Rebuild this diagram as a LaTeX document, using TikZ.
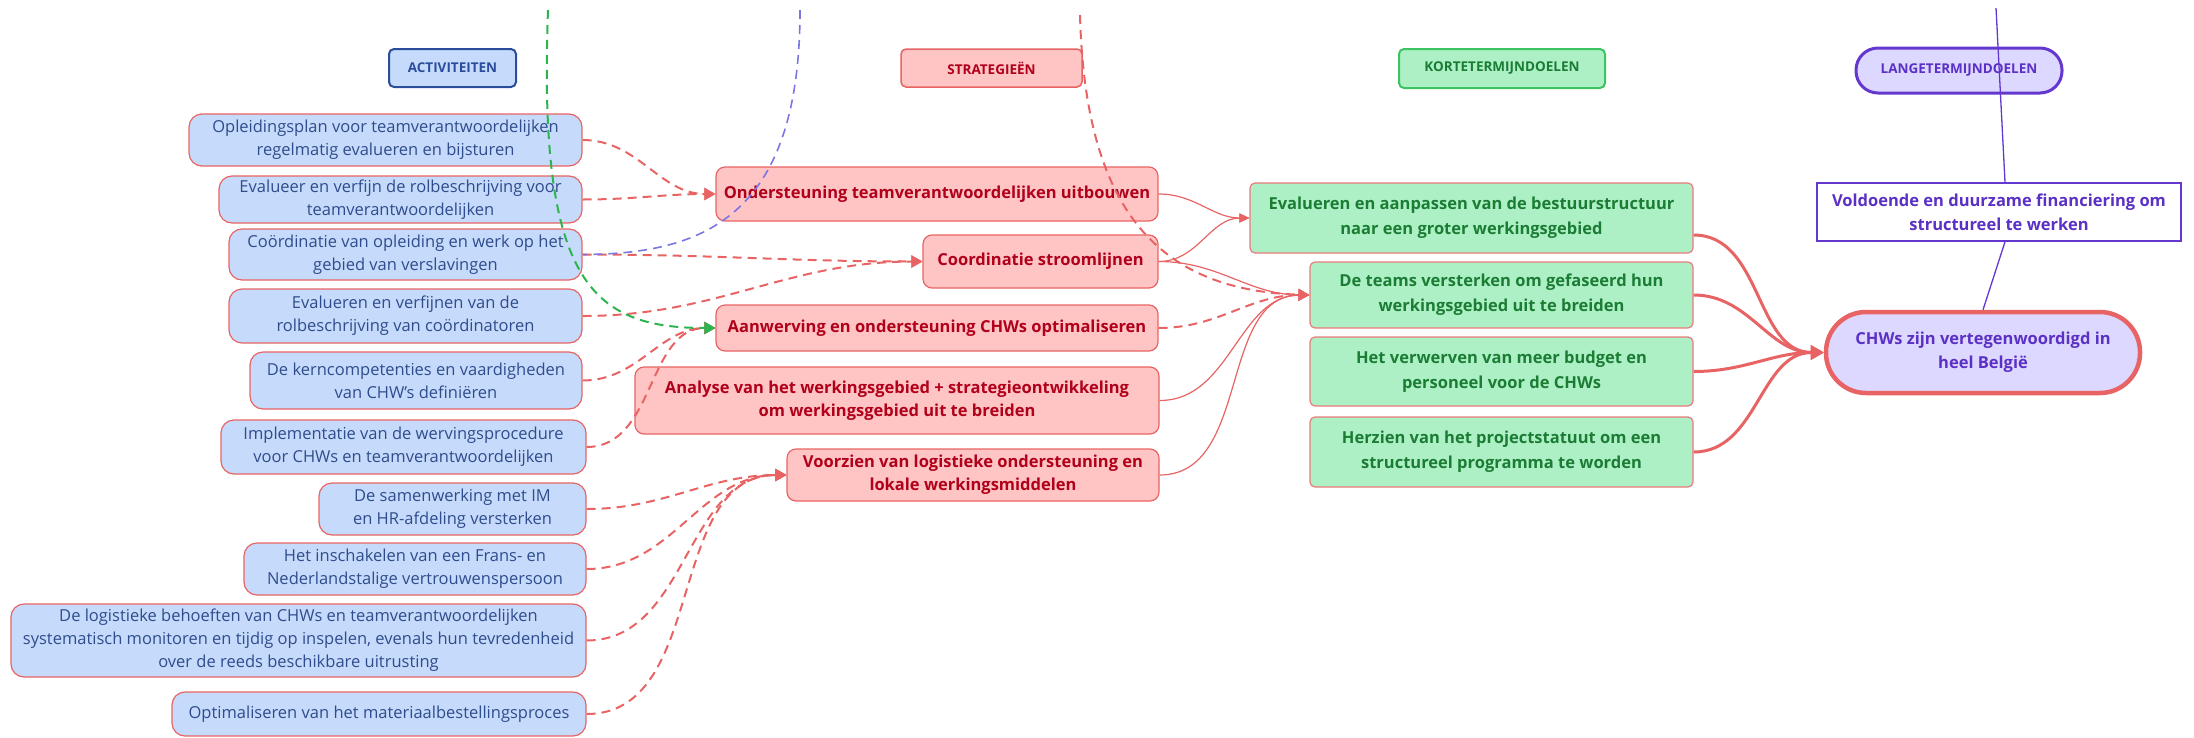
\documentclass[tikz,border=0pt]{standalone}
\usepackage{fontspec}
\setmainfont{Open Sans}
\usetikzlibrary{arrows.meta}

\definecolor{actfill}{HTML}{C6DBFB}
\definecolor{acttext}{HTML}{2F4C8C}
\definecolor{actline}{HTML}{2B4C9B}
\definecolor{strfill}{HTML}{FFC4C4}
\definecolor{strtext}{HTML}{B0001A}
\definecolor{redline}{HTML}{E86464}
\definecolor{kortfill}{HTML}{ADF0C6}
\definecolor{korttext}{HTML}{1B7C34}
\definecolor{kortline}{HTML}{3CC462}
\definecolor{langfill}{HTML}{DDD8FF}
\definecolor{langtext}{HTML}{5B30C4}
\definecolor{langline}{HTML}{6438CF}
\definecolor{greendash}{HTML}{2DB44E}
\definecolor{bluedash}{HTML}{7C76E2}

\begin{document}
\begin{tikzpicture}[x=1pt,y=-1pt, every node/.style={font=\fontsize{16.5}{23}\selectfont},
  head/.style={draw,rounded corners=5pt,align=center,font=\fontsize{13.5}{16}\selectfont\bfseries},
  act/.style={draw=redline,line width=1.2pt,fill=actfill,text=acttext,rounded corners=13pt,align=center,inner sep=2pt},
  strat/.style={draw=redline,line width=1.2pt,fill=strfill,text=strtext,rounded corners=9pt,align=center,inner sep=2pt,font=\fontsize{16.5}{23}\selectfont\bfseries},
  kort/.style={draw=redline!85,line width=1.2pt,fill=kortfill,text=korttext,rounded corners=5pt,align=center,inner sep=2pt,font=\fontsize{16.5}{25}\selectfont\bfseries},
  link/.style={redline,line width=2pt,dash pattern=on 9pt off 6pt,-{Triangle[length=11pt,width=12pt]}},
  feed/.style={redline,line width=1.2pt,-{Triangle[length=10pt,width=9pt]}},
  goal/.style={redline,line width=3pt,-{Triangle[length=13pt,width=14pt]}}]
\useasboundingbox (0,0) rectangle (2194,737);
\node[head,draw=actline,line width=2pt,fill=actfill,text=actline,minimum width=127pt,minimum height=38pt] (hact) at (452.5,68) {ACTIVITEITEN};
\node[head,draw=redline,line width=1.5pt,fill=strfill,text=strtext,minimum width=181pt,minimum height=38pt] (hstrat) at (991.5,68) {STRATEGIEËN};
\node[head,draw=kortline,line width=2pt,fill=kortfill,text=korttext,minimum width=206pt,minimum height=39pt] (hkort) at (1502,68.5) {KORTETERMIJNDOELEN};
\node[head,draw=langline,line width=3pt,fill=langfill,text=langtext,rounded corners=22pt,minimum width=206pt,minimum height=45pt] (hlang) at (1959,70.5) {LANGETERMIJNDOELEN};

\node[act,minimum width=393pt,minimum height=52pt] (act1) at (385.5,140) {Opleidingsplan voor teamverantwoordelijken\\regelmatig evalueren en bijsturen};
\node[act,minimum width=363pt,minimum height=47pt] (act2) at (400.5,199.5) {Evalueer en verfijn de rolbeschrijving voor\\teamverantwoordelijken};
\node[act,minimum width=353pt,minimum height=51pt] (act3) at (405.5,254.5) {Coördinatie van opleiding en werk op het\\gebied van verslavingen};
\node[act,minimum width=353pt,minimum height=54pt] (act4) at (405.5,316) {Evalueren en verfijnen van de\\rolbeschrijving van coördinatoren};
\node[act,minimum width=332pt,minimum height=57pt] (act5) at (416,380.5) {De kerncompetenties en vaardigheden\\van CHW's definiëren};
\node[act,minimum width=365pt,minimum height=54pt] (act6) at (403.5,447) {Implementatie van de wervingsprocedure\\voor CHWs en teamverantwoordelijken};
\node[act,minimum width=267pt,minimum height=52pt] (act7) at (452.5,509) {De samenwerking met IM\\en HR-afdeling versterken};
\node[act,minimum width=342pt,minimum height=52pt] (act8) at (415,569) {Het inschakelen van een Frans- en\\Nederlandstalige vertrouwenspersoon};
\node[act,minimum width=575pt,minimum height=73pt] (act9) at (298.5,640.5) {De logistieke behoeften van CHWs en teamverantwoordelijken\\systematisch monitoren en tijdig op inspelen, evenals hun tevredenheid\\over de reeds beschikbare uitrusting};
\node[act,minimum width=414pt,minimum height=44pt] (act10) at (379,714) {Optimaliseren van het materiaalbestellingsproces};

\node[strat,minimum width=442pt,minimum height=54pt] (str1) at (937,194) {Ondersteuning teamverantwoordelijken uitbouwen};
\node[strat,minimum width=235pt,minimum height=53pt] (str2) at (1040.5,261.5) {Coordinatie stroomlijnen};
\node[strat,minimum width=442pt,minimum height=46pt] (str3) at (937,328) {Aanwerving en ondersteuning CHWs optimaliseren};
\node[strat,minimum width=524pt,minimum height=67pt] (str4) at (897,400.5) {Analyse van het werkingsgebied + strategieontwikkeling\\om werkingsgebied uit te breiden};
\node[strat,minimum width=372pt,minimum height=52pt] (str5) at (973,475) {Voorzien van logistieke ondersteuning en\\lokale werkingsmiddelen};

\node[kort,minimum width=443pt,minimum height=70pt] (kort1) at (1471.5,218) {Evalueren en aanpassen van de bestuurstructuur\\naar een groter werkingsgebied};
\node[kort,minimum width=383pt,minimum height=66pt] (kort2) at (1501.5,295) {De teams versterken om gefaseerd hun\\werkingsgebied uit te breiden};
\node[kort,minimum width=383pt,minimum height=69pt] (kort3) at (1501.5,371.5) {Het verwerven van meer budget en\\personeel voor de CHWs};
\node[kort,minimum width=383pt,minimum height=70pt] (kort4) at (1501.5,452) {Herzien van het projectstatuut om een\\structureel programma te worden};

\node[draw=langline,line width=1.5pt,fill=white,text=langtext,align=center,inner sep=2pt,font=\fontsize{16.5}{24}\selectfont\bfseries,minimum width=364pt,minimum height=58pt] (fin) at (1999,212) {Voldoende en duurzame financiering om\\structureel te werken};
\node[draw=redline,line width=4.5pt,fill=langfill,text=langtext,rounded corners=40pt,align=center,inner sep=2pt,font=\fontsize{16.5}{24}\selectfont\bfseries,minimum width=314pt,minimum height=81pt] (doel) at (1983,352.5) {CHWs zijn vertegenwoordigd in\\heel België};

\coordinate (topg) at (548,10);
\coordinate (topb) at (800,10);
\coordinate (topr) at (1080,15);
\coordinate (topp) at (1996,8);

\draw[link] (act1.east) to[out=0,in=180] (str1.west);
\draw[link] (act2.east) to[out=0,in=180] (str1.west);
\draw[link] (act3.east) to[out=0,in=180] (str2.west);
\draw[link] (act4.east) to[out=0,in=180] (str2.west);
\draw[link] (act5.east) to[out=0,in=180] (str3.west);
\draw[link] (act6.east) to[out=0,in=180] (str3.west);
\draw[link] (act7.east) to[out=0,in=180] (str5.west);
\draw[link] (act8.east) to[out=0,in=180] (str5.west);
\draw[link] (act9.east) to[out=0,in=180] (str5.west);
\draw[link] (act10.east) to[out=0,in=180] (str5.west);

\draw[link,greendash,-{Triangle[length=11pt,width=12pt]}] (topg) .. controls (538,280) and (590,328) .. (str3.west);
\draw[bluedash,line width=1.6pt,dash pattern=on 9pt off 6pt] (topb) .. controls (800,220) and (700,254) .. (act3.east);
\draw[link] (topr) .. controls (1085,200) and (1150,290) .. (kort2.west);

\draw[feed] (str1.east) to[out=0,in=180] (kort1.west);
\draw[feed] (str2.east) to[out=0,in=180] (kort1.west);
\draw[feed] (str2.east) to[out=0,in=180] (kort2.west);
\draw[link] (str3.east) to[out=0,in=180] (kort2.west);
\draw[feed] (str4.east) to[out=0,in=180] (kort2.west);
\draw[feed] (str5.east) to[out=0,in=180] (kort2.west);

\draw[goal] ([yshift=-17pt]kort1.east) to[out=0,in=180] (doel.west);
\draw[goal] (kort2.east) to[out=0,in=180] (doel.west);
\draw[goal] (kort3.east) to[out=0,in=180] (doel.west);
\draw[goal] (kort4.east) to[out=0,in=180] (doel.west);

\draw[langline,line width=1.3pt] (topp) -- ([xshift=6pt]fin.north);
\draw[langline,line width=1.3pt] ([xshift=6pt]fin.south) -- (doel.north);
\end{tikzpicture}
\end{document}
